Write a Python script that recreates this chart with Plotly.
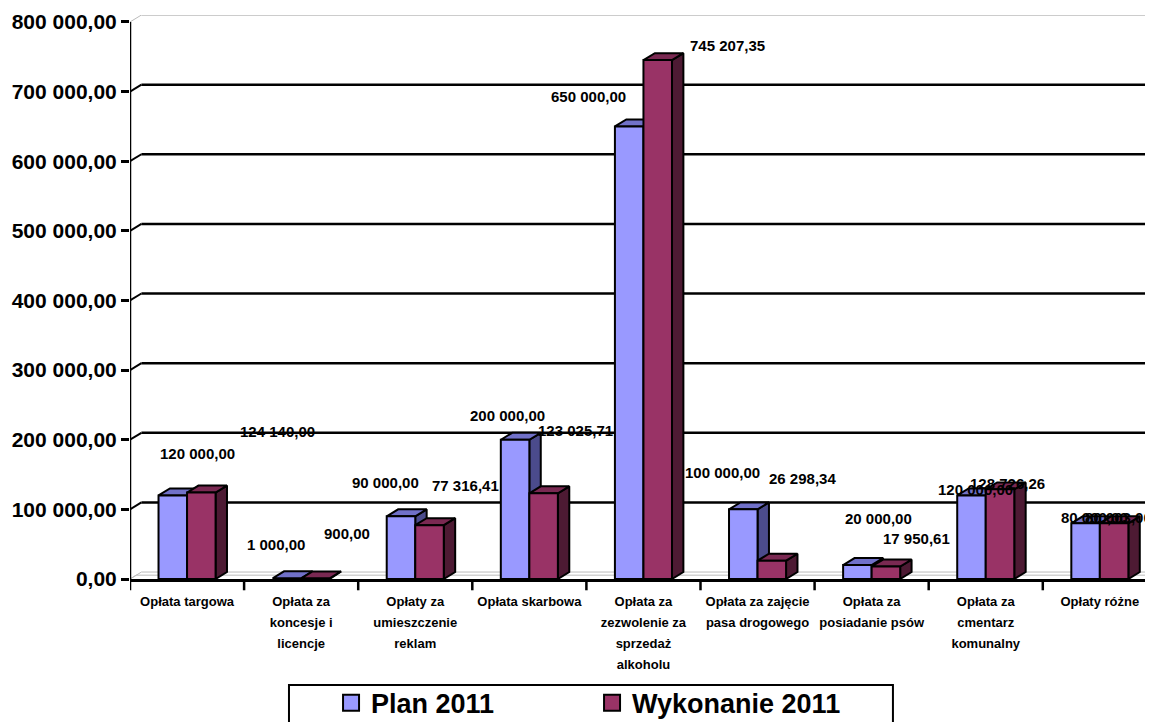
import plotly.graph_objects as go

# categories (tick labels, one list entry per line)
categories = [
    ["Opłata targowa"],
    ["Opłata za", "koncesje i", "licencje"],
    ["Opłaty za", "umieszczenie", "reklam"],
    ["Opłata skarbowa"],
    ["Opłata za", "zezwolenie za", "sprzedaż", "alkoholu"],
    ["Opłata za zajęcie", "pasa drogowego"],
    ["Opłata za", "posiadanie psów"],
    ["Opłata za", "cmentarz", "komunalny"],
    ["Opłaty różne"],
]
plan_2011 = [120000.00, 1000.00, 90000.00, 200000.00, 650000.00,
             100000.00, 20000.00, 120000.00, 80000.00]
wykonanie_2011 = [124140.00, 900.00, 77316.41, 123025.71, 745207.35,
                  26298.34, 17950.61, 128726.26, 80003.00]
y_ticks = [0, 100000, 200000, 300000, 400000, 500000, 600000, 700000, 800000]

# label offsets in px (xshift, yshift) to mimic the original placement
plan_label_shift = [(25, 42), (-11, 34), (-15, 34), (-8, 24), (-41, 30),
                    (-21, 37), (21, 47), (4, 6), (9, 6)]
wyk_label_shift = [(76, 61), (32, 45), (36, 40), (32, 63), (70, 15),
                   (31, 82), (31, 28), (7, 6), (4, 6)]

FONT = "Arial, Liberation Sans, sans-serif"
BAR_W = 0.25     # front face width in category units
DX = 0.1         # 3d depth, x (category units)
DY = 10000       # 3d depth, y (value units)
X_MAX = 8.536


def fmt(v):
    s = f"{v:,.2f}"
    return s.replace(",", " ").replace(".", ",")


def faces(values, x_off):
    fx, fy, tx, ty, sx, sy = [], [], [], [], [], []
    for i, v in enumerate(values):
        x0 = i + x_off
        x1 = x0 + BAR_W
        fx += [x0, x1, x1, x0, x0, None]
        fy += [0, 0, v, v, 0, None]
        tx += [x0, x0 + DX, x1 + DX, x1, x0, None]
        ty += [v, v + DY, v + DY, v, v, None]
        sx += [x1, x1 + DX, x1 + DX, x1, x1, None]
        sy += [0, DY, v + DY, v, 0, None]
    return (fx, fy), (tx, ty), (sx, sy)


def poly(xy, color):
    return go.Scatter(
        x=xy[0], y=xy[1], mode="lines", fill="toself", fillcolor=color,
        line=dict(color="black", width=2), hoverinfo="skip",
        showlegend=False,
    )


fig = go.Figure()

series = [
    ("Plan 2011", plan_2011, -BAR_W, "#9999FF", "#7171C9", "#4B4B8C"),
    ("Wykonanie 2011", wykonanie_2011, 0.0, "#993366", "#7A2952", "#4D1A33"),
]
for name, vals, off, c_front, c_top, c_side in series:
    front, top, side = faces(vals, off)
    fig.add_trace(poly(side, c_side))
    fig.add_trace(poly(top, c_top))
    fig.add_trace(poly(front, c_front))

# empty square-marker traces for the legend
for name, vals, off, c_front, c_top, c_side in series:
    fig.add_trace(go.Scatter(
        x=[None], y=[None], name=name, mode="markers",
        marker=dict(symbol="square", size=16, color=c_front,
                    line=dict(color="black", width=2)),
    ))

# back wall gridlines, connectors, floor
shapes = []
for v in y_ticks[1:-1]:
    shapes.append(dict(type="line", xref="x", yref="y", layer="below",
                       x0=-0.5 + DX, x1=X_MAX, y0=v + DY, y1=v + DY,
                       line=dict(color="black", width=2.5)))
for v in y_ticks[1:]:
    shapes.append(dict(type="line", xref="x", yref="y", layer="below",
                       x0=-0.5, x1=-0.5 + DX, y0=v, y1=v + DY,
                       line=dict(color="black" if v < 800000 else "#BBBBBB",
                                 width=2 if v < 800000 else 1)))
shapes.append(dict(type="line", xref="x", yref="y", layer="below",
                   x0=-0.5 + DX, x1=X_MAX, y0=800000 + DY, y1=800000 + DY,
                   line=dict(color="#BBBBBB", width=1.5)))
for k in (1.0, 0.55):
    shapes.append(dict(type="line", xref="x", yref="y", layer="below",
                       x0=-0.5 + DX * k, x1=X_MAX, y0=DY * k, y1=DY * k,
                       line=dict(color="#BBBBBB", width=1)))
    shapes.append(dict(type="line", xref="x", yref="y", layer="below",
                       x0=-0.5, x1=-0.5 + DX * k, y0=0, y1=DY * k,
                       line=dict(color="#BBBBBB", width=1)))
# y axis line
shapes.append(dict(type="line", xref="x", yref="y", layer="above",
                   x0=-0.5, x1=-0.5, y0=0, y1=800000,
                   line=dict(color="black", width=2.5)))
# x tick marks at category boundaries
for i in range(len(categories) + 1):
    shapes.append(dict(type="line", xref="x", yref="paper", layer="above",
                       x0=i - 0.5, x1=i - 0.5, y0=0, y1=-0.02,
                       line=dict(color="black", width=2.5)))
# legend frame
shapes.append(dict(type="rect", xref="paper", yref="paper",
                   x0=0.1542, x1=0.740, y0=-0.188, y1=-0.27,
                   line=dict(color="black", width=2), fillcolor="white",
                   layer="below"))

annotations = []
for i in range(len(categories)):
    for vals, off, shifts in ((plan_2011, -BAR_W / 2, plan_label_shift),
                              (wykonanie_2011, BAR_W / 2, wyk_label_shift)):
        annotations.append(dict(
            x=i + off, y=vals[i], xref="x", yref="y", text=fmt(vals[i]),
            showarrow=False, xshift=shifts[i][0], yshift=shifts[i][1],
            font=dict(family=FONT, size=15, color="black", weight="bold"),
        ))

ticktext = ["<br>".join(f'<span style="font-size:13px">{ln}</span>' for ln in lines)
            for lines in categories]

# the page body has an 8px default margin, so the figure is laid out
# 8px up/left of the target positions
fig.update_layout(
    width=1153, height=722,
    margin=dict(l=122, r=0, t=7, b=151, autoexpand=False),
    paper_bgcolor="white", plot_bgcolor="white",
    separators=", ",
    shapes=shapes, annotations=annotations,
    showlegend=True,
    legend=dict(orientation="h", x=0.195, xanchor="left", y=-0.22,
                yanchor="middle", bgcolor="rgba(0,0,0,0)",
                font=dict(family=FONT, size=27, color="black", weight="bold"),
                entrywidth=216, traceorder="normal"),
    xaxis=dict(range=[-0.5, X_MAX], tickvals=list(range(len(categories))),
               ticktext=ticktext, ticks="outside", ticklen=5,
               tickcolor="rgba(0,0,0,0)", showgrid=False, zeroline=False,
               showline=True, linecolor="black", linewidth=2.5,
               tickfont=dict(family=FONT, size=16.2, color="black",
                             weight="bold")),
    yaxis=dict(range=[0, 810000], tickvals=y_ticks, tickformat=",.2f",
               ticks="outside", ticklen=8, tickwidth=2.5, tickcolor="black",
               ticklabelstandoff=0,
               showgrid=False, zeroline=False, showline=False,
               tickfont=dict(family=FONT, size=21, color="black",
                             weight="bold")),
)

fig.write_html("out.html")
